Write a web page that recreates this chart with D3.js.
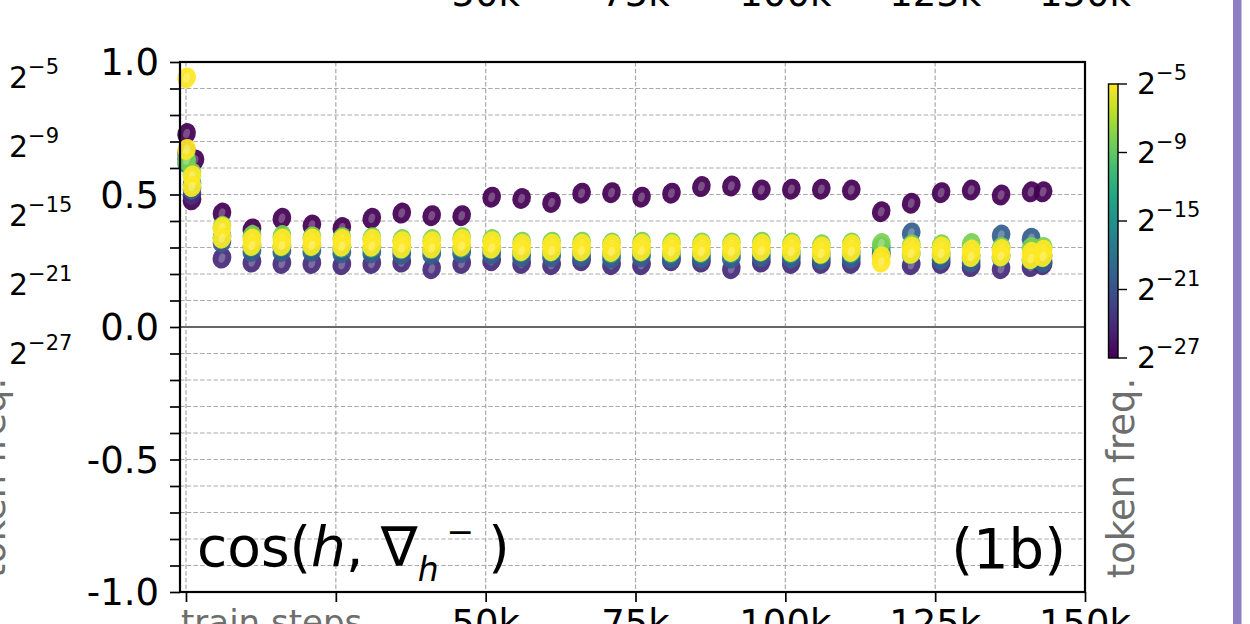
<!DOCTYPE html>
<html>
<head>
<meta charset="utf-8">
<title>cos(h, grad) scatter</title>
<script src="https://cdn.jsdelivr.net/npm/d3@7"></script>
<style>
  html, body { margin: 0; padding: 0; background: #fff; }
  svg { display: block; font-family: "DejaVu Sans", sans-serif; }
</style>
</head>
<body>
<svg id="chart" width="1250" height="624"></svg>
<script>
// train steps in thousands
var steps = [0.1, 1.0, 1.5, 6, 11, 16, 21, 26, 31, 36, 41, 46, 51, 56, 61, 66, 71, 76, 81, 86, 91, 96, 101, 106, 111, 116, 121, 126, 131, 136, 141, 143];

// cosine per frequency bucket (rarest -> most frequent)
var purpleTop = [0.73, 0.48, 0.63, 0.43, 0.37, 0.41, 0.385, 0.375, 0.41, 0.43, 0.42, 0.42, 0.49, 0.485, 0.47, 0.505, 0.507, 0.49, 0.505, 0.53, 0.532, 0.517, 0.52, 0.52, 0.517, 0.435, 0.467, 0.507, 0.517, 0.498, 0.51, 0.51];
var darkLow   = [0.66, 0.50, null, 0.26, 0.245, 0.24, 0.24, 0.235, 0.24, 0.245, 0.22, 0.24, 0.25, 0.24, 0.235, 0.25, 0.235, 0.235, 0.25, 0.245, 0.22, 0.245, 0.24, 0.24, 0.24, 0.27, 0.235, 0.24, 0.228, 0.22, 0.228, 0.235];
var blueMid   = [0.64, 0.52, null, 0.32, 0.285, 0.285, 0.285, 0.28, 0.28, 0.275, 0.275, 0.28, 0.275, 0.265, 0.265, 0.265, 0.26, 0.265, 0.26, 0.26, 0.26, 0.265, 0.26, 0.255, 0.26, 0.28, 0.355, 0.255, 0.245, 0.347, 0.335, 0.245];
var tealMid   = [0.62, 0.54, null, 0.34, 0.305, 0.305, 0.305, 0.30, 0.30, 0.295, 0.295, 0.30, 0.295, 0.285, 0.285, 0.285, 0.28, 0.285, 0.28, 0.28, 0.28, 0.285, 0.28, 0.275, 0.28, 0.30, 0.275, 0.275, 0.265, 0.265, 0.255, 0.265];
var greenTop  = [0.63, 0.58, null, 0.38, 0.345, 0.345, 0.34, 0.337, 0.337, 0.33, 0.33, 0.337, 0.33, 0.32, 0.32, 0.32, 0.317, 0.32, 0.317, 0.317, 0.317, 0.32, 0.317, 0.31, 0.317, 0.315, 0.31, 0.31, 0.315, 0.30, 0.30, 0.30];
var yellowHi  = [0.94, 0.57, null, 0.375, 0.332, 0.332, 0.332, 0.33, 0.33, 0.322, 0.322, 0.33, 0.322, 0.312, 0.312, 0.312, 0.31, 0.312, 0.31, 0.31, 0.31, 0.312, 0.31, 0.302, 0.31, 0.265, 0.302, 0.302, 0.29, 0.292, 0.282, 0.29];
var yellowLo  = [0.67, 0.53, null, 0.335, 0.308, 0.308, 0.308, 0.305, 0.305, 0.298, 0.298, 0.305, 0.298, 0.288, 0.288, 0.288, 0.285, 0.288, 0.285, 0.285, 0.285, 0.288, 0.285, 0.278, 0.285, 0.245, 0.278, 0.278, 0.266, 0.268, 0.258, 0.266];

var bucketT = [0.0, 0.12, 0.3, 0.55, 0.8, 1.0, 1.0];
var bucketVals = [purpleTop, darkLow, blueMid, tealMid, greenTop, yellowHi, yellowLo];

var yMajor = [1.0, 0.5, 0.0, -0.5, -1.0];
var xTicks = [0, 25, 50, 75, 100, 125, 150];
var xLabelTicks = [50, 75, 100, 125, 150];
var cbarExp = ["\u22125", "\u22129", "\u221215", "\u221221", "\u221227"];

var svg = d3.select("#chart");

var x = d3.scaleLinear().domain([-1, 150]).range([180, 1085]);
var y = d3.scaleLinear().domain([-1, 1]).range([592, 62]);
var fmt = d3.formatLocale({decimal: ".", thousands: ",", grouping: [3], currency: ["", ""], minus: "-"}).format(".1f");

// grid
var grid = svg.append("g");
var minor = d3.range(-9, 10).filter(function(i){ return i !== 0; }).map(function(i){ return i / 10; });
grid.selectAll("line.h").data(minor).enter().append("line")
  .attr("x1", x.range()[0]).attr("x2", x.range()[1])
  .attr("y1", function(d){ return y(d); }).attr("y2", function(d){ return y(d); })
  .attr("stroke", "#a9a9a9").attr("stroke-width", 1.2).attr("stroke-dasharray", "4.5,2.2");
grid.selectAll("line.v").data(xTicks.slice(0, 6)).enter().append("line")
  .attr("x1", function(d){ return x(d); }).attr("x2", function(d){ return x(d); })
  .attr("y1", y(1)).attr("y2", y(-1))
  .attr("stroke", "#a9a9a9").attr("stroke-width", 1.2).attr("stroke-dasharray", "4.5,2.2");
grid.append("line")
  .attr("x1", x.range()[0]).attr("x2", x.range()[1])
  .attr("y1", y(0)).attr("y2", y(0))
  .attr("stroke", "#666").attr("stroke-width", 2.2);

// points
var pts = [];
bucketVals.forEach(function(vals, b){
  vals.forEach(function(v, i){
    if (v != null) pts.push({step: steps[i], v: v, t: bucketT[b]});
  });
});
var dots = svg.append("g").selectAll("g").data(pts).enter().append("g")
  .attr("transform", function(d){ return "translate(" + x(d.step) + "," + y(d.v) + ") rotate(18)"; });
dots.append("ellipse").attr("rx", 9.2).attr("ry", 10.6)
  .attr("fill", function(d){ return d3.interpolateViridis(d.t); })
  .attr("fill-opacity", 0.93);
dots.append("ellipse").attr("rx", 3.2).attr("ry", 4.8)
  .attr("fill", "#fff").attr("fill-opacity", 0.25);

// axes ticks
var yAxis = d3.axisLeft(y).tickValues(d3.range(-10, 11).map(function(i){ return i / 10; }))
  .tickSize(10).tickFormat("");
var gy = svg.append("g").attr("transform", "translate(180,0)").call(yAxis);
gy.select(".domain").remove();
gy.selectAll(".tick line").attr("stroke", "#000").attr("stroke-width", 1.7);

var xAxis = d3.axisBottom(x).tickValues(xTicks).tickSize(10).tickFormat("");
var gx = svg.append("g").attr("transform", "translate(0,592)").call(xAxis);
gx.select(".domain").remove();
gx.selectAll(".tick line").attr("stroke", "#000").attr("stroke-width", 1.7);

// y labels
svg.append("g").selectAll("text").data(yMajor).enter().append("text")
  .attr("x", 159).attr("y", function(d){ return y(d); })
  .attr("dy", "0.36em").attr("text-anchor", "end")
  .attr("font-size", 37).attr("fill", "#000")
  .text(function(d){ return fmt(d); });

// x labels (bottom, cut by the page edge as in the source figure)
svg.append("g").selectAll("text").data(xLabelTicks).enter().append("text")
  .attr("x", function(d){ return x(d); }).attr("y", 636)
  .attr("text-anchor", "middle").attr("font-size", 37).attr("fill", "#000")
  .text(function(d){ return d + "k"; });
svg.append("text").attr("x", 181).attr("y", 634)
  .attr("font-size", 34).attr("fill", "#6e6e6e").text("train steps");

// x labels of the panel above (cut at the top)
svg.append("g").selectAll("text").data(xLabelTicks).enter().append("text")
  .attr("x", function(d){ return x(d); }).attr("y", 6)
  .attr("text-anchor", "middle").attr("font-size", 37).attr("fill", "#000")
  .text(function(d){ return d + "k"; });

// spines
svg.append("rect").attr("x", 180).attr("y", 62).attr("width", 905).attr("height", 530)
  .attr("fill", "none").attr("stroke", "#000").attr("stroke-width", 2.2);

// in-plot labels
var lab = svg.append("text").attr("x", 197).attr("y", 566).attr("font-size", 55).attr("fill", "#000");
lab.append("tspan").text("cos(");
lab.append("tspan").attr("font-style", "italic").text("h");
lab.append("tspan").text(", \u2207");
lab.append("tspan").attr("font-style", "italic").attr("font-size", 33).attr("dy", 15).text("h");
lab.append("tspan").attr("font-size", 33).attr("dy", -38).attr("dx", 8).text("\u2212");
lab.append("tspan").attr("dy", 23).attr("dx", 14).text(")");

svg.append("text").attr("x", 1066).attr("y", 568).attr("text-anchor", "end")
  .attr("font-size", 56).attr("fill", "#000").text("(1b)");

// colorbar
var defs = svg.append("defs");
var grad = defs.append("linearGradient").attr("id", "vir")
  .attr("x1", 0).attr("y1", 1).attr("x2", 0).attr("y2", 0);
d3.range(0, 11).forEach(function(i){
  grad.append("stop").attr("offset", (i * 10) + "%").attr("stop-color", d3.interpolateViridis(i / 10));
});
var cbTop = 84, cbBot = 358;
svg.append("rect").attr("x", 1108.5).attr("y", cbTop).attr("width", 9.5).attr("height", cbBot - cbTop)
  .attr("fill", "url(#vir)").attr("stroke", "#000").attr("stroke-width", 1.4);
var cbY = d3.scalePoint().domain(cbarExp).range([cbTop, cbBot]);
var cbt = svg.append("g").selectAll("g").data(cbarExp).enter().append("g")
  .attr("transform", function(d){ return "translate(1118," + cbY(d) + ")"; });
cbt.append("line").attr("x1", 0).attr("x2", 9).attr("stroke", "#000").attr("stroke-width", 1.4);
var cbtx = cbt.append("text").attr("x", 19).attr("y", 10).attr("font-size", 30).attr("fill", "#000");
cbtx.append("tspan").text("2");
cbtx.append("tspan").attr("font-size", 21).attr("dy", -14).text(function(d){ return d; });

svg.append("text").attr("transform", "translate(1134,478) rotate(-90)")
  .attr("text-anchor", "middle").attr("font-size", 37).attr("fill", "#6e6e6e").text("token freq.");

// colorbar labels of the neighbouring panel (cut at the left edge)
var lcY = d3.scalePoint().domain(cbarExp).range([78, 354]);
var lct = svg.append("g").selectAll("text").data(cbarExp).enter().append("text")
  .attr("x", 9).attr("y", function(d){ return lcY(d) + 10; })
  .attr("font-size", 30).attr("fill", "#000");
lct.append("tspan").text("2");
lct.append("tspan").attr("font-size", 21).attr("dy", -14).text(function(d){ return d; });
svg.append("text").attr("transform", "translate(5,478) rotate(-90)")
  .attr("text-anchor", "middle").attr("font-size", 37).attr("fill", "#6e6e6e").text("token freq.");

// purple strip at the right
svg.append("rect").attr("x", 1233).attr("y", 0).attr("width", 8.5).attr("height", 624).attr("fill", "#8e7fc4");
</script>
</body>
</html>
